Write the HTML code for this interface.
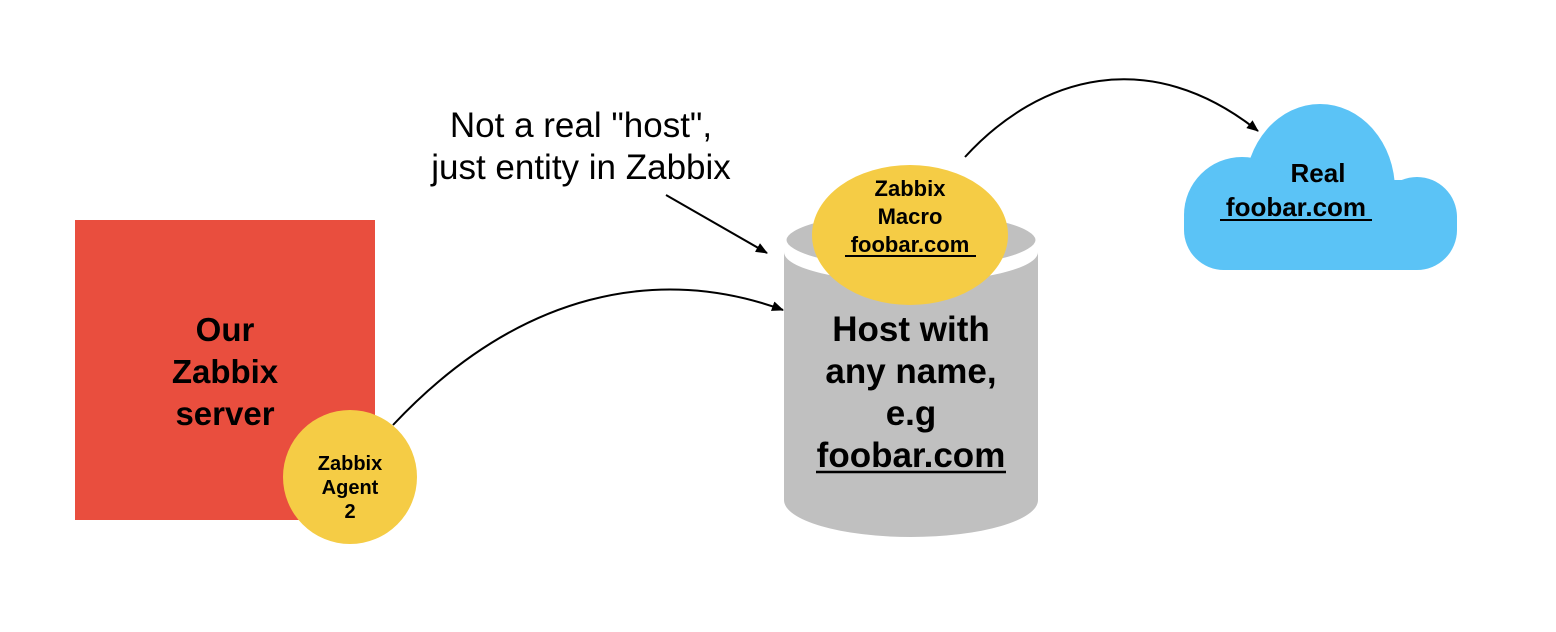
<!DOCTYPE html>
<html><head><meta charset="utf-8"><style>
html,body{margin:0;padding:0;background:#fff}
svg{display:block}
text{font-family:"Liberation Sans",sans-serif}
</style></head><body>
<svg width="1556" height="632" viewBox="0 0 1556 632" xmlns="http://www.w3.org/2000/svg">
<defs>
<marker id="a" markerWidth="12" markerHeight="10" refX="11" refY="5" orient="auto" markerUnits="userSpaceOnUse">
<path d="M0,0 L12,5 L0,10 Z" fill="#000"/>
</marker>
<clipPath id="c"><rect x="1150" y="90" width="350" height="180"/></clipPath>
</defs>
<rect x="75" y="220" width="300" height="300" fill="#e94e3e"/>
<text font-size="33" font-weight="bold" text-anchor="middle" fill="#000">
<tspan x="225" y="341">Our</tspan><tspan x="225" y="383">Zabbix</tspan><tspan x="225" y="425">server</tspan></text>
<circle cx="350" cy="477" r="67" fill="#f5cc45"/>
<text font-size="20" font-weight="bold" text-anchor="middle">
<tspan x="350" y="470">Zabbix</tspan><tspan x="350" y="494">Agent</tspan><tspan x="350" y="518">2</tspan></text>

<path d="M784,252 A127,30 0 0 0 1038,252 L1038,500 A127,37 0 0 1 784,500 Z" fill="#c0c0c0"/>
<ellipse cx="911" cy="240" rx="127" ry="30" fill="#c0c0c0" stroke="#fff" stroke-width="5"/>
<ellipse cx="910" cy="235" rx="98" ry="70" fill="#f5cc45"/>
<text font-size="22" font-weight="bold" text-anchor="middle">
<tspan x="910" y="196">Zabbix</tspan><tspan x="910" y="224">Macro</tspan><tspan x="910" y="252">foobar.com</tspan></text>
<line x1="845" y1="256" x2="976" y2="256" stroke="#000" stroke-width="2"/>
<text font-size="35" font-weight="bold" text-anchor="middle">
<tspan x="911" y="341">Host with</tspan><tspan x="911" y="383">any name,</tspan><tspan x="911" y="425">e.g</tspan><tspan x="911" y="467">foobar.com</tspan></text>
<line x1="816" y1="472" x2="1006" y2="472" stroke="#000" stroke-width="2.5"/>

<g fill="#5bc3f6" clip-path="url(#c)">
<ellipse cx="1320" cy="190" rx="75" ry="86"/>
<circle cx="1242" cy="215" r="58"/>
<circle cx="1417" cy="217" r="40"/>
<rect x="1184" y="180" width="273" height="90" rx="40"/>
</g>
<text font-size="26" font-weight="bold" text-anchor="middle">
<tspan x="1318" y="182">Real</tspan><tspan x="1296" y="216">foobar.com</tspan></text>
<line x1="1220" y1="220" x2="1372" y2="220" stroke="#000" stroke-width="2"/>

<text font-size="35" text-anchor="middle">
<tspan x="581" y="137">Not a real "host",</tspan><tspan x="581" y="179">just entity in Zabbix</tspan></text>

<path d="M393,425 C520,290 660,265 783,310" fill="none" stroke="#000" stroke-width="2" marker-end="url(#a)"/>
<line x1="666" y1="195" x2="767" y2="253" stroke="#000" stroke-width="2" marker-end="url(#a)"/>
<path d="M965,157 C1040,75 1150,45 1258,131" fill="none" stroke="#000" stroke-width="2" marker-end="url(#a)"/>
</svg>
</body></html>
